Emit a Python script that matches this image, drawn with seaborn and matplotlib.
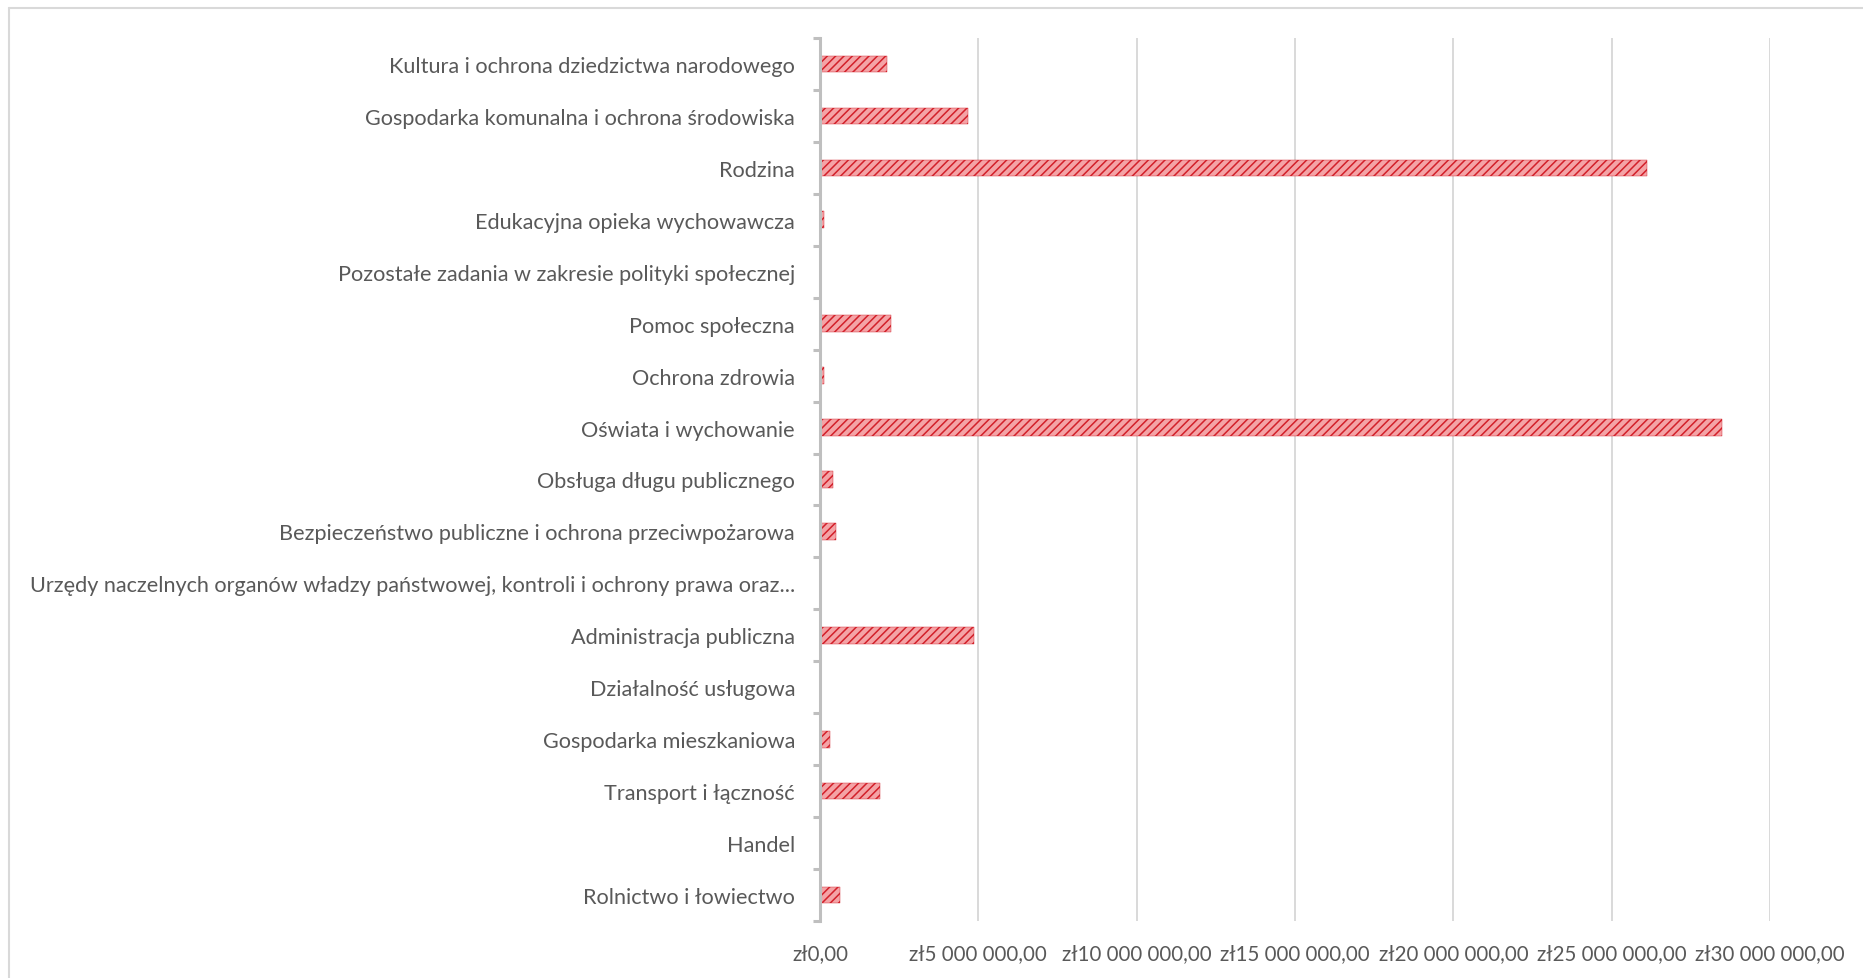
import pandas as pd
import matplotlib.pyplot as plt
import seaborn as sns
from matplotlib.ticker import FuncFormatter, FixedLocator
from matplotlib.lines import Line2D

# Dane (wydatki wg działów, w zł) - kolejność od góry
kategorie = [
    "Kultura i ochrona dziedzictwa narodowego",
    "Gospodarka komunalna i ochrona środowiska",
    "Rodzina",
    "Edukacyjna opieka wychowawcza",
    "Pozostałe zadania w zakresie polityki społecznej",
    "Pomoc społeczna",
    "Ochrona zdrowia",
    "Oświata i wychowanie",
    "Obsługa długu publicznego",
    "Bezpieczeństwo publiczne i ochrona przeciwpożarowa",
    "Urzędy naczelnych organów władzy państwowej, kontroli i ochrony prawa oraz...",
    "Administracja publiczna",
    "Działalność usługowa",
    "Gospodarka mieszkaniowa",
    "Transport i łączność",
    "Handel",
    "Rolnictwo i łowiectwo",
]
wartosci = [
    2_130_000, 4_680_000, 26_130_000, 130_000, 0,
    2_240_000, 130_000, 28_470_000, 400_000, 520_000,
    0, 4_870_000, 0, 320_000, 1_880_000, 0, 620_000,
]
x_ticki = [0, 5_000_000, 10_000_000, 15_000_000, 20_000_000, 25_000_000, 30_000_000]

df = pd.DataFrame({"kategoria": kategorie, "wartosc": wartosci})

sns.set_theme(style="white")
plt.rcParams['font.family'] = ['Lato', 'DejaVu Sans']
plt.rcParams['hatch.color'] = '#C8000A'
plt.rcParams['hatch.linewidth'] = 1.1

fig = plt.figure(figsize=(18.63, 9.79), dpi=100)
ax = fig.add_axes([820 / 1863, 1 - 922 / 979, (1770 - 820) / 1863, (922 - 39) / 979])

sns.barplot(data=df, x="wartosc", y="kategoria", orient="h", width=0.32,
            color='#F4A3A6', edgecolor='#D2202A', linewidth=0.3, hatch='////',
            saturation=1, ax=ax)

ax.set_xlim(0, 30_000_000)
ax.set_ylim(len(kategorie) - 0.5, -0.5)
ax.xaxis.set_major_locator(FixedLocator(x_ticki))
ax.xaxis.set_major_formatter(FuncFormatter(
    lambda v, p: "zł" + f"{int(v):,}".replace(",", " ") + ",00"))

ax.grid(axis='x', color='#D9D9D9', linewidth=1.4)
ax.set_axisbelow(True)
ax.set_xlabel('')
ax.set_ylabel('')

for s in ['top', 'right', 'bottom']:
    ax.spines[s].set_visible(False)
ax.spines['left'].set_color('#BFBFBF')
ax.spines['left'].set_linewidth(2.2)

ax.tick_params(axis='x', length=0, pad=16, labelsize=14.8, labelcolor='#595959')
ax.tick_params(axis='y', which='major', length=0, pad=18, labelsize=15.6, labelcolor='#595959')
# znaczniki między kategoriami (styl Excela)
ax.set_yticks([i - 0.5 for i in range(len(kategorie) + 1)], minor=True)
ax.tick_params(axis='y', which='minor', left=True, length=5, width=2.2, color='#BFBFBF')

# ramka wykresu
fig.add_artist(Line2D([9 / 1863, 1], [1 - 9 / 979, 1 - 9 / 979], color='#D9D9D9', linewidth=1.5))
fig.add_artist(Line2D([9 / 1863, 9 / 1863], [0, 1 - 9 / 979], color='#D9D9D9', linewidth=1.5))

plt.savefig("out.png", dpi=100)
plt.close()
